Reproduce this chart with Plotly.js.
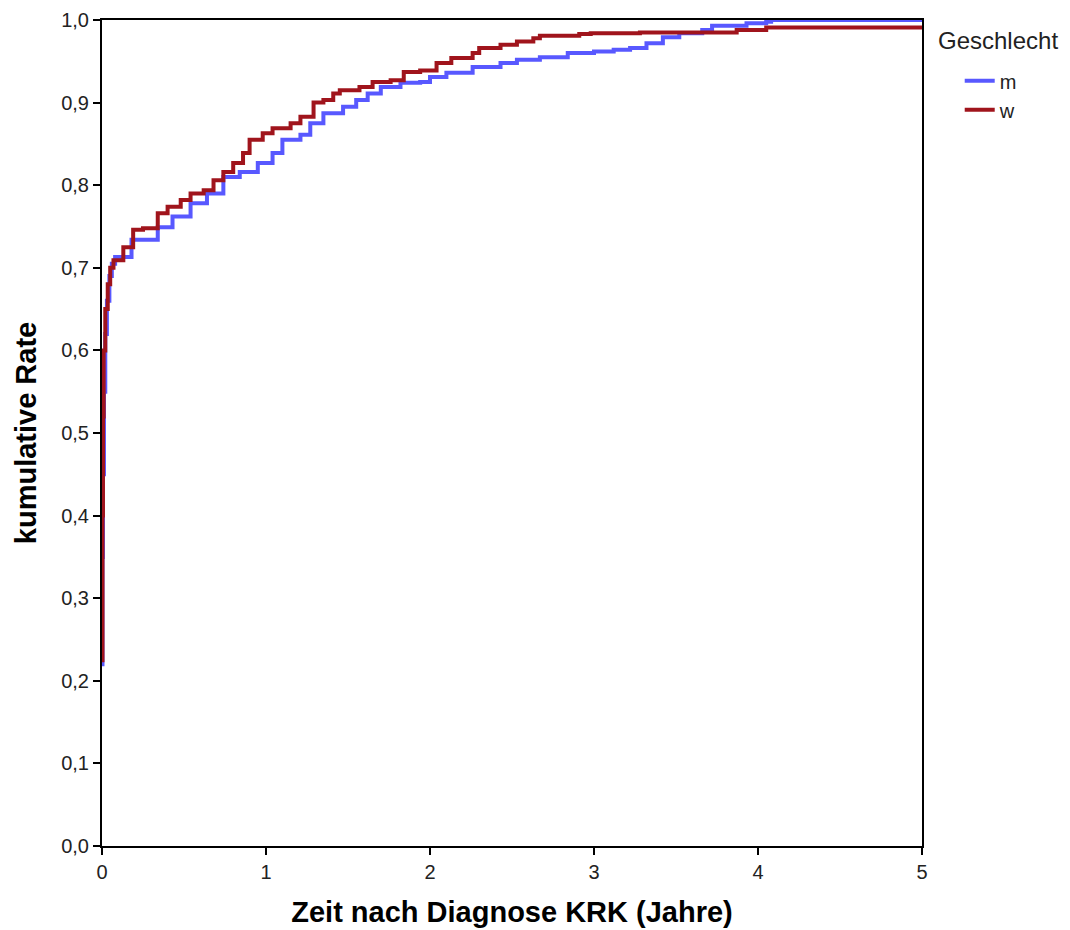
<!DOCTYPE html>
<html>
<head>
<meta charset="utf-8">
<script src="https://cdn.plot.ly/plotly-3.0.1.min.js"></script>
<style>html,body{margin:0;padding:0;background:#fff;}</style>
</head>
<body>
<div id="chart" style="width:1070px;height:930px;"></div>
<script>
// Geschlecht = m
const mYears = [0, 0.003, 0.006, 0.012, 0.02, 0.03, 0.045, 0.06, 0.08, 0.18, 0.34, 0.43, 0.54, 0.64, 0.74, 0.84, 0.95, 1.04, 1.10, 1.21, 1.27, 1.35, 1.47, 1.55, 1.62, 1.70, 1.82, 1.94, 2.00, 2.10, 2.26, 2.43, 2.53, 2.67, 2.84, 3.00, 3.12, 3.22, 3.32, 3.42, 3.52, 3.66, 3.72, 3.93, 4.05, 4.08, 5.0];
const mRate  = [0.22, 0.35, 0.45, 0.55, 0.62, 0.66, 0.69, 0.705, 0.713, 0.734, 0.749, 0.762, 0.778, 0.790, 0.810, 0.816, 0.827, 0.839, 0.855, 0.861, 0.875, 0.887, 0.895, 0.903, 0.911, 0.919, 0.924, 0.925, 0.931, 0.936, 0.943, 0.948, 0.952, 0.955, 0.960, 0.962, 0.964, 0.966, 0.972, 0.979, 0.984, 0.988, 0.993, 0.996, 0.998, 1.0, 1.0];
// Geschlecht = w
const wYears = [0, 0.003, 0.006, 0.01, 0.02, 0.035, 0.05, 0.07, 0.13, 0.19, 0.25, 0.34, 0.40, 0.48, 0.54, 0.62, 0.68, 0.74, 0.80, 0.86, 0.90, 0.98, 1.04, 1.15, 1.21, 1.29, 1.35, 1.41, 1.45, 1.57, 1.65, 1.76, 1.84, 1.94, 2.04, 2.13, 2.26, 2.30, 2.43, 2.53, 2.63, 2.67, 2.91, 2.98, 3.28, 3.87, 4.05, 5.0];
const wRate  = [0.225, 0.40, 0.52, 0.60, 0.65, 0.68, 0.70, 0.709, 0.725, 0.746, 0.748, 0.766, 0.774, 0.782, 0.790, 0.794, 0.806, 0.816, 0.827, 0.839, 0.855, 0.863, 0.869, 0.875, 0.883, 0.900, 0.903, 0.911, 0.915, 0.919, 0.925, 0.927, 0.937, 0.939, 0.948, 0.954, 0.960, 0.966, 0.970, 0.974, 0.978, 0.981, 0.983, 0.984, 0.985, 0.988, 0.991, 0.993];

const xTicks = [0, 1, 2, 3, 4, 5];
const yTicks = [0, 0.1, 0.2, 0.3, 0.4, 0.5, 0.6, 0.7, 0.8, 0.9, 1.0];

const FONT = 'Liberation Sans, Arial, sans-serif';

const traces = [
  {x: mYears, y: mRate, name: 'm', type: 'scatter', mode: 'lines',
   line: {color: 'rgb(88,88,255)', width: 4, shape: 'hv'}},
  {x: wYears, y: wRate, name: 'w', type: 'scatter', mode: 'lines',
   line: {color: 'rgb(160,20,28)', width: 4, shape: 'hv'}}
];

const layout = {
  width: 1070, height: 930,
  margin: {l: 102, r: 148, t: 20, b: 84},
  paper_bgcolor: '#fff', plot_bgcolor: '#fff',
  separators: ',.',
  font: {family: FONT, color: '#000', size: 20},
  showlegend: true,
  legend: {
    x: 1.046, y: 0.95, xanchor: 'left', yanchor: 'top',
    font: {size: 20, color: '#222', family: FONT},
    itemwidth: 30, tracegroupgap: 0, bgcolor: 'rgba(0,0,0,0)'
  },
  annotations: [{
    text: 'Geschlecht', xref: 'paper', yref: 'paper',
    x: 1.0165, y: 0.975, xanchor: 'left', yanchor: 'middle', showarrow: false,
    font: {size: 24, color: '#222', family: FONT}
  }],
  xaxis: {
    range: [0, 5], tickvals: xTicks, ticktext: xTicks.map(String),
    showgrid: false, zeroline: false,
    showline: true, linecolor: '#000', linewidth: 2, mirror: true,
    ticks: 'outside', ticklen: 7, tickcolor: '#000', tickwidth: 2,
    tickfont: {size: 20, color: '#222', family: FONT},
    title: {text: '<b>Zeit nach Diagnose KRK (Jahre)</b>', font: {size: 29, color: '#000', family: FONT}, standoff: 20}
  },
  yaxis: {
    range: [0, 1], tickvals: yTicks, tickformat: '.1f',
    showgrid: false, zeroline: false,
    showline: true, linecolor: '#000', linewidth: 2, mirror: true,
    ticks: 'outside', ticklen: 7, tickcolor: '#000', tickwidth: 2,
    tickfont: {size: 20, color: '#222', family: FONT},
    title: {text: '<b>kumulative Rate</b>', font: {size: 29, color: '#000', family: FONT}, standoff: 16}
  }
};

Plotly.newPlot('chart', traces, layout, {displayModeBar: false, staticPlot: true});
</script>
</body>
</html>
